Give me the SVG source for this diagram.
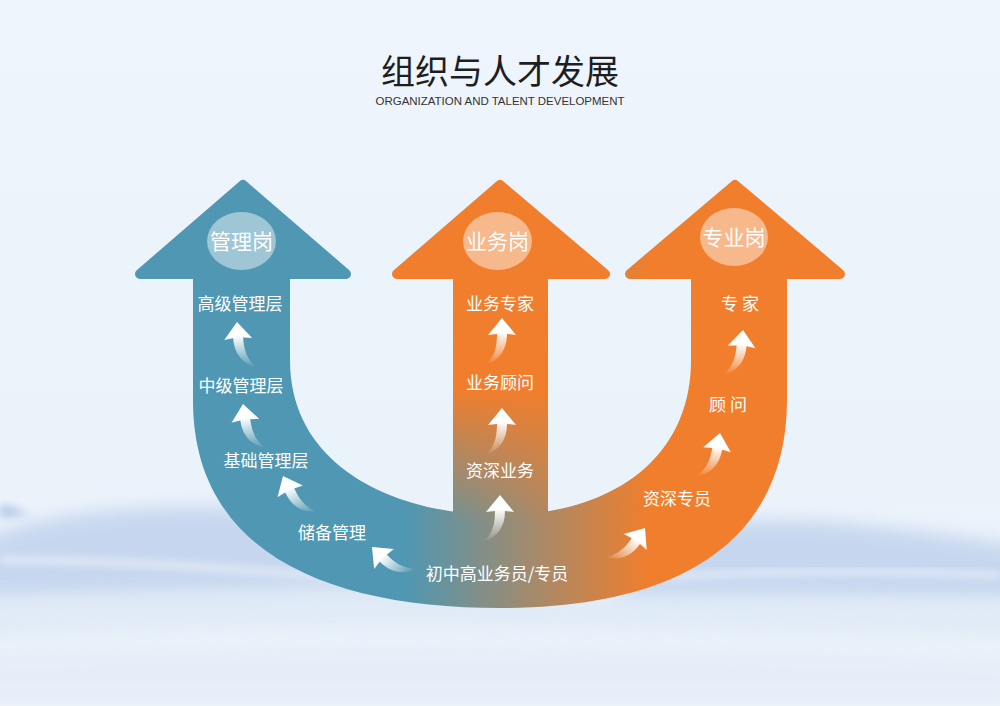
<svg xmlns="http://www.w3.org/2000/svg" width="1000" height="706" viewBox="0 0 1000 706">
<defs>
<style>
.lbl{font-family:"Noto Sans CJK SC","Noto Sans",sans-serif;font-size:17px;fill:#ffffff;text-anchor:middle}
.cap{font-family:"Noto Sans CJK SC","Noto Sans",sans-serif;font-size:21px;fill:#ffffff;text-anchor:middle}
.bubble{fill:#ffffff;fill-opacity:0.45}
.hd{stroke-linejoin:round;stroke-width:10}
</style>
<linearGradient id="bg" x1="0" y1="0" x2="0" y2="1">
<stop offset="0" stop-color="#eef5fc"/>
<stop offset="0.6" stop-color="#eaf2fa"/>
<stop offset="1" stop-color="#eef4fa"/>
</linearGradient>
<linearGradient id="uGrad" gradientUnits="userSpaceOnUse" x1="405" y1="0" x2="650" y2="0">
<stop offset="0" stop-color="#4f97b2"/>
<stop offset="1" stop-color="#f17e2c"/>
</linearGradient>
<linearGradient id="midGrad" gradientUnits="userSpaceOnUse" x1="0" y1="390" x2="0" y2="522">
<stop offset="0" stop-color="#f17e2c" stop-opacity="1"/>
<stop offset="1" stop-color="#f17e2c" stop-opacity="0"/>
</linearGradient>
<linearGradient id="arrGrad" x1="0" y1="0" x2="0" y2="1">
<stop offset="0.3" stop-color="#ffffff" stop-opacity="1"/>
<stop offset="1" stop-color="#ffffff" stop-opacity="0.05"/>
</linearGradient>
<filter id="blur" x="-20%" y="-50%" width="140%" height="200%"><feGaussianBlur stdDeviation="9"/></filter>
<filter id="blur2" x="-20%" y="-50%" width="140%" height="200%"><feGaussianBlur stdDeviation="4"/></filter>
<path id="sa" d="M0,0 L14,17 L5,16 C5,32 -3,42 -15,46 C-7,37 -5,28 -5,16 L-14,17 Z" fill="url(#arrGrad)"/>
</defs>

<g id="background">
<rect width="1000" height="706" fill="url(#bg)"/>
<path d="M-20,540 C60,505 200,500 330,515 C420,528 450,560 420,590 L-20,600 Z" fill="#c0d2ed" opacity="0.85" filter="url(#blur)"/>
<path d="M0,505 C10,505 20,510 30,514 L0,518 Z" fill="#b4c8e6" filter="url(#blur2)"/>
<path d="M620,560 C680,520 760,515 860,525 C930,532 980,540 1020,545 L1020,600 L620,600 Z" fill="#bfd2ec" opacity="0.85" filter="url(#blur)"/>
<path d="M-20,600 C200,585 500,590 1020,600 L1020,640 C500,625 200,625 -20,640 Z" fill="#dbe7f5" opacity="0.7" filter="url(#blur)"/>
<path d="M-20,650 C300,635 700,640 1020,655 L1020,706 L-20,706 Z" fill="#e4edf8" opacity="0.8" filter="url(#blur)"/>
<path d="M0,560 C150,560 300,575 460,585" stroke="#ffffff" stroke-width="6" fill="none" opacity="0.6" filter="url(#blur2)"/>
<path d="M600,580 C750,570 880,570 1000,575" stroke="#ffffff" stroke-width="6" fill="none" opacity="0.6" filter="url(#blur2)"/>
</g>

<g id="title">
<text x="500" y="84" text-anchor="middle" style="font-family:'Noto Sans CJK SC','Noto Sans',sans-serif;font-size:34px;fill:#1e1e1e">组织与人才发展</text>
<text x="500" y="105" text-anchor="middle" textLength="249" lengthAdjust="spacingAndGlyphs" style="font-family:'Liberation Sans',Arial,sans-serif;font-size:11px;fill:#333333">ORGANIZATION AND TALENT DEVELOPMENT</text>
</g>

<g id="connectors">
<path id="u-body" d="M193,270 L290,270 L290,360 C290,470 400,515 500,515 C610,515 691,460 691,360 L691,270 L787,270 L787,400 C787,530 695,608 500,608 C340,608 193,560 193,400 Z" fill="url(#uGrad)"/>
<rect x="453" y="270" width="95" height="258" fill="url(#uGrad)"/>
<rect x="453" y="270" width="95" height="258" fill="url(#midGrad)"/>
</g>

<g id="node-manage">
<polygon class="hd" points="243,185 140,274 346,274" fill="#4f97b2" stroke="#4f97b2"/>
<ellipse class="bubble" cx="241.5" cy="241" rx="34.5" ry="29"/>
<text class="cap" x="241.5" y="248.5">管理岗</text>
</g>
<g id="node-business">
<polygon class="hd" points="500,185 397,274 605,274" fill="#f17e2c" stroke="#f17e2c"/>
<ellipse class="bubble" cx="497.5" cy="241" rx="34.5" ry="29"/>
<text class="cap" x="497.5" y="248.5">业务岗</text>
</g>
<g id="node-expert">
<polygon class="hd" points="735,185 630,274 840,274" fill="url(#uGrad)" stroke="url(#uGrad)"/>
<ellipse class="bubble" cx="734" cy="237" rx="34" ry="29"/>
<text class="cap" x="734" y="244.5">专业岗</text>
</g>

<g id="labels">
<text class="lbl" x="240" y="310">高级管理层</text>
<text class="lbl" x="241" y="392">中级管理层</text>
<text class="lbl" x="266" y="467">基础管理层</text>
<text class="lbl" x="332" y="539">储备管理</text>
<text class="lbl" x="497" y="580">初中高业务员/专员</text>
<text class="lbl" x="500" y="310">业务专家</text>
<text class="lbl" x="500" y="389">业务顾问</text>
<text class="lbl" x="500" y="477">资深业务</text>
<text class="lbl" x="740" y="310">专 家</text>
<text class="lbl" x="728" y="411">顾 问</text>
<text class="lbl" x="677" y="505">资深专员</text>
</g>

<g id="small-arrows">
<use href="#sa" transform="translate(237,322) rotate(-4) scale(-1,1)"/>
<use href="#sa" transform="translate(243,404) rotate(-8) scale(-1,1)"/>
<use href="#sa" transform="translate(283,476) rotate(-25) scale(-1,1)"/>
<use href="#sa" transform="translate(372,547) rotate(-45) scale(-1,1)"/>
<use href="#sa" transform="translate(500,495)"/>
<use href="#sa" transform="translate(502,408)"/>
<use href="#sa" transform="translate(502,318)"/>
<use href="#sa" transform="translate(645,528) rotate(35)"/>
<use href="#sa" transform="translate(720,433) rotate(10)"/>
<use href="#sa" transform="translate(743,330) rotate(5)"/>
</g>
</svg>
